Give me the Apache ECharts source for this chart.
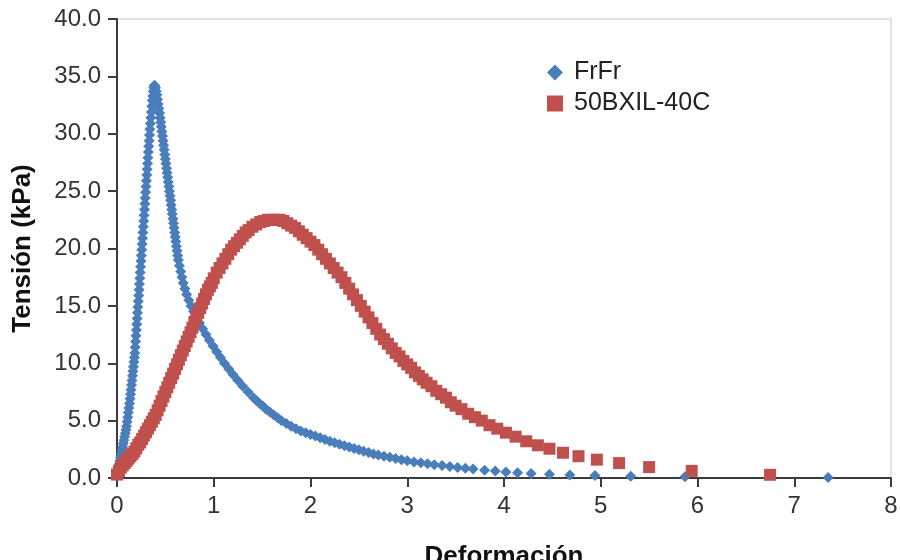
<!DOCTYPE html>
<html>
<head>
<meta charset="utf-8">
<script src="https://cdn.jsdelivr.net/npm/echarts@6/dist/echarts.min.js"></script>
<style>
  html, body { margin: 0; padding: 0; background: #fff; }
  #chart { width: 900px; height: 560px; }
</style>
</head>
<body>
<div id="chart"></div>
<script>
// series names
const seriesNames = ['FrFr', '50BXIL-40C'];

// FrFr: [Deformación, Tensión (kPa)]
const frfrData = [
  [0, 0.3], [0.008, 0.6], [0.015, 0.9], [0.022, 1.2], [0.03, 1.5], [0.037, 1.8], [0.044, 2.1],
  [0.051, 2.4], [0.058, 2.7], [0.065, 3.0], [0.072, 3.3], [0.079, 3.6], [0.086, 3.9], [0.093, 4.2],
  [0.099, 4.5], [0.105, 4.9], [0.111, 5.3], [0.117, 5.7], [0.123, 6.1], [0.129, 6.5], [0.135, 6.9],
  [0.14, 7.3], [0.145, 7.7], [0.15, 8.1], [0.155, 8.5], [0.16, 8.9], [0.165, 9.3], [0.17, 9.7],
  [0.175, 10.1], [0.18, 10.5], [0.184, 10.9], [0.188, 11.4], [0.192, 11.9], [0.196, 12.4],
  [0.2, 12.9], [0.204, 13.4], [0.208, 13.9], [0.212, 14.4], [0.216, 14.9], [0.22, 15.4],
  [0.224, 15.9], [0.228, 16.4], [0.232, 16.9], [0.236, 17.4], [0.24, 17.9], [0.244, 18.4],
  [0.248, 18.9], [0.252, 19.4], [0.256, 19.9], [0.26, 20.4], [0.264, 20.9], [0.268, 21.4],
  [0.272, 21.9], [0.276, 22.4], [0.28, 22.9], [0.284, 23.4], [0.288, 23.9], [0.292, 24.4],
  [0.296, 24.9], [0.3, 25.4], [0.304, 25.9], [0.308, 26.4], [0.312, 26.9], [0.316, 27.4],
  [0.32, 27.9], [0.324, 28.4], [0.328, 28.9], [0.332, 29.4], [0.336, 29.9], [0.34, 30.4],
  [0.345, 30.9], [0.35, 31.4], [0.355, 31.9], [0.36, 32.4], [0.365, 32.9], [0.37, 33.3],
  [0.375, 33.7], [0.38, 34.0], [0.385, 34.2], [0.39, 34.2], [0.398, 34.0], [0.405, 33.7],
  [0.412, 33.4], [0.419, 33.0], [0.426, 32.6], [0.433, 32.2], [0.44, 31.8], [0.446, 31.4],
  [0.452, 31.0], [0.458, 30.6], [0.464, 30.2], [0.47, 29.8], [0.476, 29.4], [0.482, 29.0],
  [0.488, 28.6], [0.494, 28.2], [0.5, 27.8], [0.506, 27.4], [0.512, 27.0], [0.518, 26.6],
  [0.524, 26.2], [0.53, 25.8], [0.536, 25.4], [0.542, 25.0], [0.548, 24.6], [0.554, 24.2],
  [0.56, 23.8], [0.566, 23.4], [0.572, 23.0], [0.578, 22.6], [0.584, 22.2], [0.59, 21.8],
  [0.596, 21.4], [0.602, 21.0], [0.608, 20.6], [0.614, 20.2], [0.62, 19.8], [0.627, 19.4],
  [0.634, 19.0], [0.645, 18.5], [0.658, 18.0], [0.671, 17.5], [0.685, 17.0], [0.702, 16.5],
  [0.72, 16.0], [0.742, 15.5], [0.765, 15.0], [0.792, 14.5], [0.82, 14.0], [0.852, 13.5],
  [0.885, 13.0], [0.92, 12.5], [0.955, 12.0], [0.992, 11.5], [1.03, 11.0], [1.07, 10.5],
  [1.11, 10.0], [1.155, 9.5], [1.2, 9.0], [1.25, 8.5], [1.3, 8.0], [1.355, 7.5], [1.41, 7.0],
  [1.44, 6.75], [1.475, 6.5], [1.51, 6.25], [1.54, 6.0], [1.58, 5.75], [1.62, 5.5], [1.66, 5.25],
  [1.7, 5.0], [1.75, 4.75], [1.8, 4.5], [1.85, 4.3], [1.9, 4.1], [1.95, 3.95], [2.0, 3.8],
  [2.05, 3.65], [2.1, 3.5], [2.15, 3.35], [2.2, 3.2], [2.25, 3.07], [2.3, 2.95], [2.35, 2.82],
  [2.4, 2.7], [2.45, 2.58], [2.5, 2.46], [2.55, 2.34], [2.6, 2.22], [2.65, 2.1], [2.7, 2.0],
  [2.76, 1.9], [2.82, 1.8], [2.88, 1.7], [2.94, 1.6], [3.0, 1.5], [3.07, 1.4], [3.14, 1.32],
  [3.21, 1.24], [3.28, 1.16], [3.36, 1.08], [3.44, 1.0], [3.52, 0.92], [3.6, 0.85], [3.68, 0.78],
  [3.8, 0.68], [3.91, 0.6], [4.02, 0.52], [4.14, 0.46], [4.28, 0.4], [4.47, 0.33], [4.68, 0.27],
  [4.94, 0.21], [5.31, 0.15], [5.87, 0.1], [7.35, 0.05]
];

// 50BXIL-40C: [Deformación, Tensión (kPa)]
const bxilData = [
  [0, 0.3], [0.02, 0.6], [0.04, 0.9], [0.06, 1.1], [0.08, 1.3], [0.1, 1.5], [0.12, 1.7],
  [0.14, 1.9], [0.16, 2.1], [0.18, 2.3], [0.2, 2.6], [0.22, 2.9], [0.24, 3.1], [0.26, 3.4],
  [0.28, 3.7], [0.3, 4.0], [0.32, 4.3], [0.34, 4.6], [0.36, 4.9], [0.38, 5.2], [0.4, 5.5],
  [0.42, 5.9], [0.44, 6.3], [0.46, 6.7], [0.48, 7.1], [0.5, 7.5], [0.52, 7.9], [0.54, 8.3],
  [0.56, 8.7], [0.58, 9.1], [0.6, 9.5], [0.62, 9.9], [0.64, 10.3], [0.66, 10.7], [0.68, 11.1],
  [0.7, 11.5], [0.72, 11.9], [0.74, 12.3], [0.76, 12.7], [0.78, 13.1], [0.8, 13.6], [0.82, 14.0],
  [0.84, 14.4], [0.86, 14.8], [0.88, 15.2], [0.9, 15.6], [0.92, 16.0], [0.94, 16.4], [0.96, 16.7],
  [0.98, 17.0], [1.0, 17.4], [1.03, 17.9], [1.06, 18.3], [1.09, 18.7], [1.12, 19.1], [1.15, 19.5],
  [1.18, 19.9], [1.21, 20.2], [1.24, 20.5], [1.27, 20.8], [1.3, 21.1], [1.33, 21.4], [1.36, 21.6],
  [1.4, 21.9], [1.44, 22.1], [1.48, 22.3], [1.52, 22.4], [1.56, 22.5], [1.6, 22.5], [1.64, 22.5],
  [1.68, 22.5], [1.72, 22.4], [1.76, 22.2], [1.8, 22.0], [1.84, 21.8], [1.88, 21.5], [1.92, 21.2],
  [1.96, 20.9], [2.0, 20.6], [2.04, 20.3], [2.08, 19.9], [2.12, 19.5], [2.16, 19.1], [2.2, 18.7],
  [2.24, 18.3], [2.28, 17.9], [2.32, 17.5], [2.36, 17.0], [2.4, 16.5], [2.44, 16.0], [2.48, 15.5],
  [2.52, 15.0], [2.56, 14.5], [2.6, 14.0], [2.64, 13.5], [2.68, 13.0], [2.72, 12.5], [2.76, 12.1],
  [2.8, 11.7], [2.84, 11.3], [2.88, 10.9], [2.92, 10.6], [2.96, 10.2], [3.0, 9.9], [3.04, 9.6],
  [3.08, 9.2], [3.12, 8.9], [3.16, 8.6], [3.2, 8.3], [3.25, 8.0], [3.3, 7.6], [3.35, 7.3],
  [3.4, 7.0], [3.45, 6.6], [3.5, 6.3], [3.56, 6.0], [3.63, 5.6], [3.7, 5.3], [3.77, 5.0],
  [3.85, 4.6], [3.93, 4.3], [4.02, 3.95], [4.12, 3.6], [4.23, 3.2], [4.35, 2.85], [4.47, 2.55],
  [4.61, 2.2], [4.77, 1.9], [4.96, 1.6], [5.19, 1.3], [5.5, 0.95], [5.94, 0.62], [6.75, 0.28]
];

const seriesColors = ['#4a7ebb', '#c0504d'];

const chart = echarts.init(document.getElementById('chart'), null, { renderer: 'canvas' });

const fontFamily = '"Liberation Sans", Arial, sans-serif';

chart.setOption({
  animation: false,
  backgroundColor: '#ffffff',
  grid: {
    left: 117,
    right: 9,
    top: 19,
    bottom: 82,
    outerBoundsMode: 'none',
    containLabel: false,
    show: true,
    borderColor: '#c4c4c4',
    borderWidth: 1
  },
  legend: {
    orient: 'vertical',
    left: 542,
    top: 55,
    itemWidth: 16,
    itemHeight: 16,
    itemGap: 6,
    data: [
      { name: seriesNames[0], icon: 'diamond' },
      { name: seriesNames[1], icon: 'rect' }
    ],
    textStyle: {
      fontFamily: fontFamily,
      fontSize: 25,
      color: '#222',
      padding: [0, 0, 0, 6]
    }
  },
  xAxis: {
    type: 'value',
    min: 0,
    max: 8,
    interval: 1,
    name: 'Deformación',
    nameLocation: 'middle',
    nameGap: 66,
    nameTextStyle: { fontFamily: fontFamily, fontSize: 26, fontWeight: 'bold', color: '#111' },
    axisLine: { onZero: false, lineStyle: { color: '#3c3c3c', width: 2 } },
    axisTick: { show: true, inside: false, length: 9, lineStyle: { color: '#3c3c3c', width: 2 } },
    axisLabel: { fontFamily: fontFamily, fontSize: 24, color: '#333', margin: 16 },
    splitLine: { show: false }
  },
  yAxis: {
    type: 'value',
    min: 0,
    max: 40,
    interval: 5,
    name: 'Tensión (kPa)',
    nameLocation: 'middle',
    nameGap: 81,
    nameRotate: 90,
    nameTextStyle: { fontFamily: fontFamily, fontSize: 26, fontWeight: 'bold', color: '#111' },
    axisLine: { show: true, onZero: false, lineStyle: { color: '#3c3c3c', width: 2 } },
    axisTick: { show: true, inside: false, length: 9, lineStyle: { color: '#3c3c3c', width: 2 } },
    axisLabel: {
      fontFamily: fontFamily,
      fontSize: 24,
      color: '#333',
      margin: 16,
      formatter: v => v.toFixed(1)
    },
    splitLine: { show: false }
  },
  series: [
    {
      name: seriesNames[0],
      type: 'scatter',
      symbol: 'diamond',
      symbolSize: 11,
      itemStyle: { color: seriesColors[0], opacity: 1 },
      data: frfrData,
      z: 2
    },
    {
      name: seriesNames[1],
      type: 'scatter',
      symbol: 'rect',
      symbolSize: 12,
      itemStyle: { color: seriesColors[1], opacity: 1 },
      data: bxilData,
      z: 3
    }
  ]
});
</script>
</body>
</html>
